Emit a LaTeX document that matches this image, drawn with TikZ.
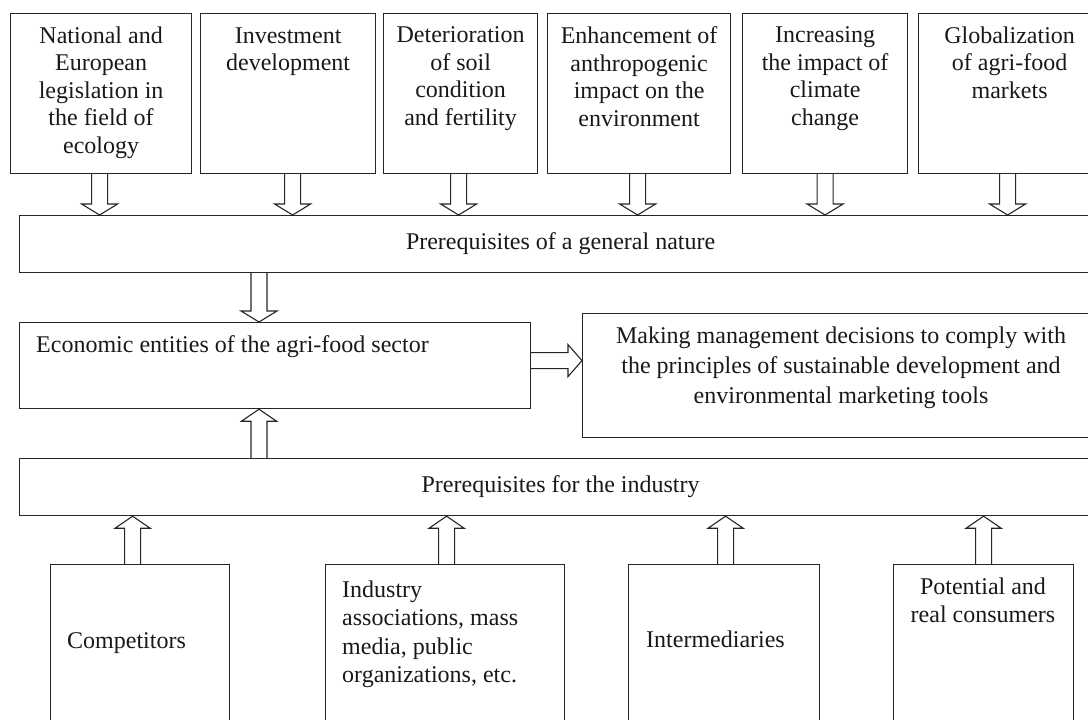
\documentclass[tikz,border=0pt]{standalone}
\usepackage{fontspec}
\setmainfont{Liberation Serif}
\usetikzlibrary{calc}
\tikzset{
  box/.style={draw=black!85, line width=1.2pt, rectangle, inner sep=0pt, anchor=north west},
  txt/.style={inner sep=0pt, text=black!90, font=\fontsize{24}{27.5}\selectfont},
  blk/.style={draw=black!85, line width=1.1pt, line join=miter},
}
\newcommand\arrdown[2]{%
  \draw[blk] let \p1=#1, \p2=#2 in
   ({\x1-8pt},\y1) -- ({\x1-8pt},{\y2+11pt}) -- ({\x1-18pt},{\y2+11pt}) -- (\x1,\y2)
   -- ({\x1+18pt},{\y2+11pt}) -- ({\x1+8pt},{\y2+11pt}) -- ({\x1+8pt},\y1);}
\newcommand\arrup[2]{%
  \draw[blk] let \p1=#1, \p2=#2 in
   ({\x1-8pt},\y1) -- ({\x1-8pt},{\y2-12pt}) -- ({\x1-17.5pt},{\y2-12pt}) -- (\x1,\y2)
   -- ({\x1+17.5pt},{\y2-12pt}) -- ({\x1+8pt},{\y2-12pt}) -- ({\x1+8pt},\y1);}
\newcommand\arrright[2]{%
  \draw[blk] let \p1=#1, \p2=#2 in
   (\x1,{\y1+8pt}) -- ({\x2-14pt},{\y1+8pt}) -- ({\x2-14pt},{\y1+16pt}) -- (\x2,\y1)
   -- ({\x2-14pt},{\y1-16pt}) -- ({\x2-14pt},{\y1-8pt}) -- (\x1,{\y1-8pt});}
\begin{document}
\begin{tikzpicture}[x=1pt,y=-1pt]
\useasboundingbox[fill=white] (0,0) rectangle (1088,720);
% top boxes
\node[box, minimum width=181pt, minimum height=160pt] (b1) at (10,13) {};
\node[box, minimum width=175pt, minimum height=160pt] (b2) at (200,13) {};
\node[box, minimum width=154pt, minimum height=160pt] (b3) at (383,13) {};
\node[box, minimum width=183pt, minimum height=160pt] (b4) at (547,13) {};
\node[box, minimum width=165pt, minimum height=160pt] (b5) at (742,13) {};
\node[box, minimum width=182pt, minimum height=160pt] (b6) at (918,13) {};
\node[txt, anchor=north, align=center] (t1) at ([yshift=-13.6pt]b1.north) {National and\\European\\legislation in\\the field of\\ecology};
\node[txt, anchor=north, align=center] (t2) at ([yshift=-14.1pt]b2.north) {Investment\\development};
\node[txt, anchor=north, align=center] (t3) at ([yshift=-13.6pt]b3.north) {Deterioration\\of soil\\condition\\and fertility};
\node[txt, anchor=north, align=center] (t4) at ([yshift=-13.6pt]b4.north) {Enhancement of\\anthropogenic\\impact on the\\environment};
\node[txt, anchor=north, align=center] (t5) at ([yshift=-13.6pt]b5.north) {Increasing\\the impact of\\climate\\change};
\node[txt, anchor=north, align=center] (t6) at ([yshift=-13.6pt]b6.north) {Globalization\\of agri-food\\markets};
% general
\node[box, minimum width=1082pt, minimum height=57pt] (gen) at (19,215) {};
\node[txt] (gent) at (gen.center) {Prerequisites of a general nature};
% economic
\node[box, minimum width=511pt, minimum height=86pt] (econ) at (19,322) {};
\node[txt, anchor=base west] (econt) at (36,352) {Economic entities of the agri-food sector};
% decision
\node[box, minimum width=518pt, minimum height=124pt] (dec) at (582,313) {};
\node[txt, anchor=north, align=center, font=\fontsize{24}{30}\selectfont] (dect) at (841,326.6) {Making management decisions to comply with\\the principles of sustainable development and\\environmental marketing tools};
% industry
\node[box, minimum width=1082pt, minimum height=57pt] (ind) at (19,458) {};
\node[txt] (indt) at (ind.center) {Prerequisites for the industry};
% bottom boxes
\node[box, minimum width=179pt, minimum height=170pt] (c1) at (50,564) {};
\node[box, minimum width=239pt, minimum height=170pt] (c2) at (325,564) {};
\node[box, minimum width=191pt, minimum height=170pt] (c3) at (628,564) {};
\node[box, minimum width=180pt, minimum height=170pt] (c4) at (893,564) {};
\node[txt, anchor=base west] (c1t) at (67,648) {Competitors};
\node[txt, anchor=north west, align=left, font=\fontsize{24}{28.3}\selectfont] (c2t) at (342,580.6) {Industry\\associations, mass\\media, public\\organizations, etc.};
\node[txt, anchor=base west] (c3t) at (646,647) {Intermediaries};
\node[txt, anchor=north, align=center, font=\fontsize{24}{28}\selectfont] (c4t) at (983,577.6) {Potential and\\real consumers};
% arrows top
\arrdown{([xshift=-1.5pt]b1.south)}{(gen.north)}
\arrdown{([xshift=4.5pt]b2.south)}{(gen.north)}
\arrdown{([xshift=-2pt]b3.south)}{(gen.north)}
\arrdown{([xshift=-1.5pt]b4.south)}{(gen.north)}
\arrdown{(b5.south)}{(gen.north)}
\arrdown{([xshift=-2pt]b6.south)}{(gen.north)}
% middle arrows
\coordinate (ax) at (259,0);
\arrdown{(gen.south -| ax)}{(econ.north)}
\arrup{(ind.north -| ax)}{(econ.south)}
\arrright{([yshift=5pt]econ.east)}{(dec.west)}
% bottom arrows
\arrup{([xshift=-7.5pt]c1.north)}{(ind.south)}
\arrup{([xshift=1.5pt]c2.north)}{(ind.south)}
\arrup{([xshift=1.5pt]c3.north)}{(ind.south)}
\arrup{(c4.north)}{(ind.south)}
\end{tikzpicture}
\end{document}
